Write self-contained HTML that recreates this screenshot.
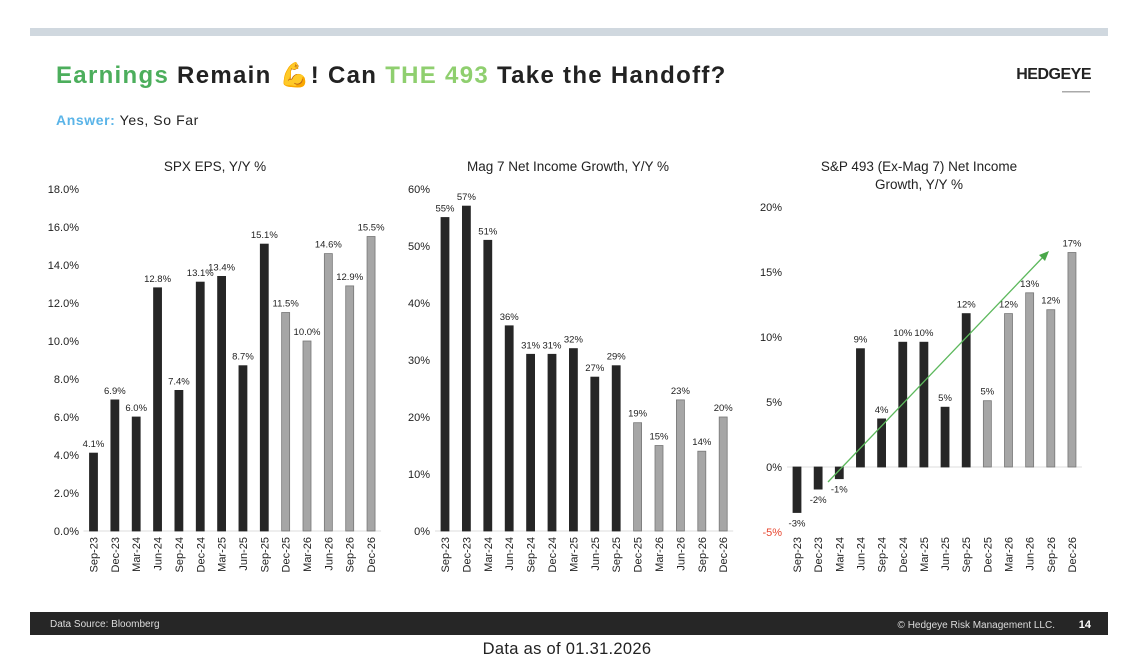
<!DOCTYPE html>
<html><head><meta charset="utf-8"><style>
body{margin:0;width:1134px;height:664px;background:#fff;overflow:hidden;font-family:"Liberation Sans",sans-serif;}
svg text{font-family:"Liberation Sans",sans-serif;}
</style></head><body>
<svg id="s" width="1134" height="664" xmlns="http://www.w3.org/2000/svg">
<rect x="30" y="28" width="1078" height="8" fill="#d0d8df"/>
<text x="56" y="83" font-size="24" font-weight="bold" fill="#222" letter-spacing="1.3"><tspan fill="#4cae5c">Earnings</tspan> Remain <tspan fill="#e8a93a">💪</tspan>!  Can <tspan fill="#8fcf6f">THE 493</tspan> Take the Handoff?</text>
<text x="1091" y="79" font-size="16" font-weight="bold" fill="#222" text-anchor="end" letter-spacing="-0.5">HEDGEYE</text>
<rect x="1062" y="91" width="28" height="1.5" fill="#aaa"/>
<text x="56" y="125" font-size="14" letter-spacing="0.6"><tspan fill="#5ab4e8" font-weight="bold">Answer:</tspan><tspan fill="#222">  Yes, So Far</tspan></text>
<text x="215" y="171" font-size="13.5" text-anchor="middle" fill="#222">SPX EPS, Y/Y %</text>
<text x="568" y="171" font-size="13.5" text-anchor="middle" fill="#222">Mag 7 Net Income Growth, Y/Y %</text>
<text x="919" y="171" font-size="13.5" text-anchor="middle" fill="#222">S&amp;P 493 (Ex-Mag 7) Net Income</text>
<text x="919" y="189" font-size="13.5" text-anchor="middle" fill="#222">Growth, Y/Y %</text>
<g id="c"></g>
<rect x="30" y="612" width="1078" height="23" fill="#262626"/>
<text x="50" y="627" font-size="10" fill="#ddd">Data Source: Bloomberg</text>
<text x="1055" y="628" font-size="10" fill="#ddd" text-anchor="end">© Hedgeye Risk Management LLC.</text>
<text x="1091" y="628" font-size="11" font-weight="bold" fill="#fff" text-anchor="end">14</text>
<text x="567" y="654" font-size="16.5" fill="#222" text-anchor="middle" letter-spacing="0.3">Data as of 01.31.2026</text>
</svg>
<script>
const L=["Sep-23","Dec-23","Mar-24","Jun-24","Sep-24","Dec-24","Mar-25","Jun-25","Sep-25","Dec-25","Mar-26","Jun-26","Sep-26","Dec-26"];
let h='';
function chart(x0,dx,y0,ppu,vals,labs,ticks,tfmt,tx,axisY){
  ticks.forEach(t=>{const y=y0-t*ppu;h+=`<text x="${tx}" y="${y+4}" font-size="11" text-anchor="end" fill="${t<0?'#e8452e':'#222'}">${tfmt(t)}</text>`;});
  h+=`<line x1="${x0-10}" x2="${x0+13*dx+10}" y1="${y0}" y2="${y0}" stroke="#ddd"/>`;
  vals.forEach((v,i)=>{const cx=x0+i*dx,yt=y0-v*ppu;const top=Math.min(yt,y0),ht=Math.abs(yt-y0);
    const f=i<9?'#262626':'#a6a6a6';
    h+=`<rect x="${cx-4}" y="${top}" width="8" height="${ht}" fill="${f}" stroke="${i<9?'#262626':'#777'}" stroke-width="0.8"/>`;
    const ly=v>=0?yt-6:yt+14;
    h+=`<text x="${cx}" y="${ly}" font-size="9.5" text-anchor="middle" fill="#222">${labs[i]}</text>`;
    h+=`<text transform="translate(${cx+4},${axisY}) rotate(-90)" font-size="11" text-anchor="end" fill="#222">${L[i]}</text>`;
  });
}
const a=[4.1,6.9,6.0,12.8,7.4,13.1,13.4,8.7,15.1,11.5,10.0,14.6,12.9,15.5];
chart(93.5,21.35,531,19,a,a.map(v=>v.toFixed(1)+'%'),[0,2,4,6,8,10,12,14,16,18],t=>t.toFixed(1)+'%',79,537);
const b=[55,57,51,36,31,31,32,27,29,19,15,23,14,20];
chart(445,21.4,531,5.7,b,b.map(v=>v+'%'),[0,10,20,30,40,50,60],t=>t+'%',430,537);
const c=[-3.5,-1.7,-0.9,9.1,3.7,9.6,9.6,4.6,11.8,5.1,11.8,13.4,12.1,16.5];
const cl=[-3,-2,-1,9,4,10,10,5,12,5,12,13,12,17];
chart(797,21.15,467,13,c,cl.map(v=>v+'%'),[-5,0,5,10,15,20],t=>t+'%',782,537);
h+=`<line x1="828" y1="482" x2="1045" y2="255" stroke="#5cb85c" stroke-width="1.3"/><polygon points="1049,251 1039,255 1045,261" fill="#4aa84a"/>`;
document.getElementById('c').innerHTML=h;
</script>
</body></html>
